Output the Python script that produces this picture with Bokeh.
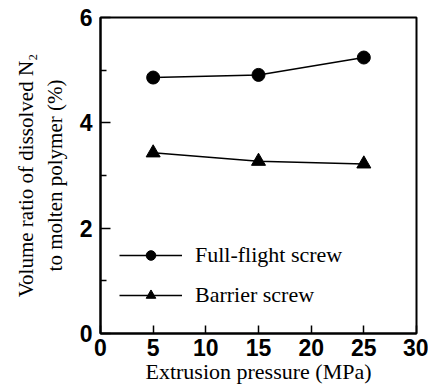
from bokeh.plotting import figure
from bokeh.models import FixedTicker, Legend, LegendItem, Range1d
from bokeh.embed import file_html
from bokeh.resources import INLINE

pressure = [5, 15, 25]
full_flight = [4.86, 4.91, 5.24]
barrier = [3.43, 3.27, 3.22]
x_ticks = [0, 5, 10, 15, 20, 25, 30]
y_ticks = [0, 2, 4, 6]
y_minor = [1, 3, 5]

p = figure(width=428, height=392, output_backend="svg", toolbar_location=None,
           x_range=Range1d(0, 30), y_range=Range1d(0, 6),
           min_border_left=100, min_border_right=12, min_border_top=17, min_border_bottom=59)
p.grid.visible = False
p.outline_line_color = "black"
p.outline_line_width = 2

l1 = p.line(pressure, full_flight, line_color="black", line_width=1.5)
s1 = p.scatter(pressure, full_flight, marker="circle", size=13, fill_color="black", line_color="black")
l2 = p.line(pressure, barrier, line_color="black", line_width=1.5)
s2 = p.scatter(pressure, barrier, marker="triangle", size=14, fill_color="black", line_color="black")

tick_font = "'Liberation Sans Narrow', 'Liberation Sans', sans-serif"
serif_font = "'Liberation Serif', 'Times New Roman', serif"
for ax in (p.xaxis[0], p.yaxis[0]):
    ax.axis_line_width = 2
    ax.axis_line_color = "black"
    ax.major_tick_line_width = 1.5
    ax.major_tick_line_color = "black"
    ax.minor_tick_line_width = 1.5
    ax.minor_tick_line_color = "black"
    ax.major_tick_out = 0
    ax.minor_tick_out = 0
    ax.major_label_text_font = tick_font
    ax.major_label_text_font_style = "bold"
    ax.major_label_text_font_size = "23px"
    ax.major_label_text_color = "black"
    ax.axis_label_text_font = serif_font
    ax.axis_label_text_font_style = "normal"
    ax.axis_label_text_color = "black"

p.xaxis.ticker = FixedTicker(ticks=x_ticks)
p.xaxis.major_tick_in = 8
p.xaxis.minor_tick_in = 0
p.xaxis.major_label_standoff = 5
p.xaxis.axis_label = "Extrusion pressure (MPa)"
p.xaxis.axis_label_standoff = 0
p.xaxis.axis_label_text_font_size = "22px"

p.yaxis.ticker = FixedTicker(ticks=y_ticks, minor_ticks=y_minor)
p.yaxis.major_tick_in = 10
p.yaxis.minor_tick_in = 6
p.yaxis.major_label_standoff = 8
p.yaxis.axis_label = "Volume ratio of dissolved N\u2082\nto molten polymer (%)"
p.yaxis.axis_label_standoff = 10
p.yaxis.axis_label_text_font_size = "21px"

legend = Legend(items=[LegendItem(label="Full-flight screw", renderers=[l1, s1]),
                       LegendItem(label="Barrier screw", renderers=[l2, s2])],
                location=(19, 25), glyph_width=63, glyph_height=24, label_height=24,
                spacing=14, padding=0, margin=0, label_standoff=13,
                background_fill_alpha=0, border_line_alpha=0,
                label_text_font=serif_font, label_text_font_size="22px",
                label_text_color="black")
p.add_layout(legend)

open("out.html", "w").write(file_html(p, INLINE))
